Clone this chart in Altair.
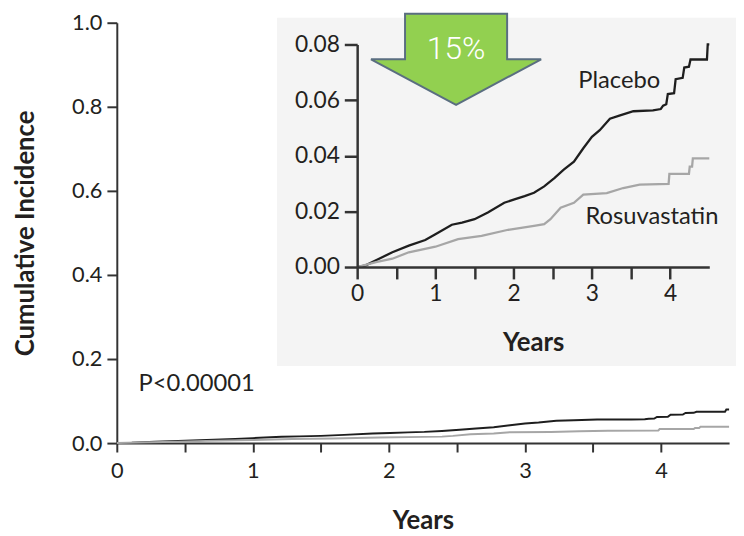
import altair as alt
import pandas as pd

# ---- data (cumulative incidence curves) ----
years_placebo = [0, 0.11, 0.28, 0.45, 0.66, 0.87, 1.0, 1.21, 1.34, 1.5, 1.67, 1.88, 2.01,
                 2.14, 2.26, 2.39, 2.52, 2.64, 2.77, 2.89, 3.0, 3.1, 3.23, 3.36, 3.53,
                 3.78, 3.88, 3.91, 3.95, 3.97, 4.05, 4.07, 4.16, 4.18, 4.24, 4.26,
                 4.47, 4.48, 4.5]
inc_placebo = [0, 0.0006, 0.003, 0.0053, 0.0077, 0.0097, 0.0118, 0.0152, 0.016, 0.0172,
               0.0196, 0.0231, 0.0243, 0.0255, 0.0267, 0.029, 0.032, 0.035, 0.0379,
               0.0427, 0.0468, 0.0492, 0.0533, 0.0545, 0.056, 0.0563, 0.0568, 0.058,
               0.0585, 0.0622, 0.0625, 0.0675, 0.068, 0.0717, 0.072, 0.0746,
               0.0746, 0.08, 0.08]
years_rosu = [0, 0.24, 0.45, 0.66, 1.0, 1.29, 1.59, 1.93, 2.26, 2.39, 2.47, 2.6, 2.77,
              2.89, 3.19, 3.4, 3.61, 3.98, 3.99, 4.24, 4.25, 4.28, 4.29, 4.5]
inc_rosu = [0, 0.0018, 0.003, 0.0053, 0.0073, 0.01, 0.0112, 0.0134, 0.0148, 0.0154,
            0.0172, 0.0213, 0.0231, 0.026, 0.0266, 0.0284, 0.0296, 0.0299, 0.0335,
            0.0335, 0.0361, 0.0361, 0.0391, 0.0391]
series_names = ["Placebo", "Rosuvastatin"]
series_colors = ["#1e1e1e", "#a6a6a6"]
main_y_ticks = [0, 0.2, 0.4, 0.6, 0.8, 1.0]
inset_y_ticks = [0, 0.02, 0.04, 0.06, 0.08]
x_ticks = [0, 0.5, 1, 1.5, 2, 2.5, 3, 3.5, 4]
p_text = "P<0.00001"
reduction_text = "15%"

df = pd.concat([
    pd.DataFrame({"Years": years_placebo, "Incidence": inc_placebo, "Series": "Placebo",
                  "i": range(len(years_placebo))}),
    pd.DataFrame({"Years": years_rosu, "Incidence": inc_rosu, "Series": "Rosuvastatin",
                  "i": range(len(years_rosu))}),
], ignore_index=True)

FONT = "Lato"
TXT = "#231f20"
W, H = 619, 425

color = alt.Color("Series:N", scale=alt.Scale(domain=series_names, range=series_colors), legend=None)
label_expr = "datum.value % 1 === 0 ? format(datum.value, 'd') : ''"

one = pd.DataFrame({"a": [0]})

# inset background panel
bg = alt.Chart(one).mark_rect(color="#f4f4f4").encode(
    x=alt.value(162), x2=alt.value(626), y=alt.value(-5), y2=alt.value(347)
)

main = alt.Chart(df).mark_line(strokeWidth=2).encode(
    x=alt.X("Years:Q", scale=alt.Scale(domain=[0, 4.5], nice=False, zero=False),
            axis=alt.Axis(orient="bottom", values=x_ticks, labelExpr=label_expr,
                          title="Years", titlePadding=26, titleFontSize=26,
                          titleFontWeight="bold", titleFont=FONT, titleColor=TXT,
                          labelFont=FONT, labelFontSize=22, labelColor=TXT,
                          labelPadding=9, tickSize=9, tickColor="#333", tickWidth=2,
                          domainColor="#333", domainWidth=2, grid=False,
                          labelFlush=False)),
    y=alt.Y("Incidence:Q", scale=alt.Scale(domain=[0, 1], nice=False),
            axis=alt.Axis(orient="left", values=main_y_ticks, format=".1f",
                          title="Cumulative Incidence", titlePadding=34, titleFontSize=26,
                          titleFontWeight="bold", titleFont=FONT, titleColor=TXT,
                          labelFont=FONT, labelFontSize=22, labelColor=TXT,
                          labelPadding=5, tickSize=10, tickColor="#333", tickWidth=2,
                          domainColor="#333", domainWidth=2, grid=False,
                          labelFlush=False)),
    color=color,
    order="i:Q",
)

inset = alt.Chart(df).mark_line(strokeWidth=2.3).encode(
    x=alt.X("Years:Q", scale=alt.Scale(domain=[0, 4.5], range=[243, 599], nice=False, zero=False),
            axis=alt.Axis(orient="bottom", offset=-178, values=x_ticks, labelExpr=label_expr,
                          title="Years", titlePadding=24, titleFontSize=26,
                          titleFontWeight="bold", titleFont=FONT, titleColor=TXT,
                          labelFont=FONT, labelFontSize=23, labelColor=TXT,
                          labelPadding=4, tickSize=12, tickColor="#333", tickWidth=2.5,
                          domainColor="#333", domainWidth=2.5, grid=False,
                          labelFlush=False, zindex=1)),
    y=alt.Y("Incidence:Q", scale=alt.Scale(domain=[0, 0.08], range=[247, 22], nice=False),
            axis=alt.Axis(orient="left", offset=-243, values=inset_y_ticks, format=".2f",
                          title=None,
                          labelFont=FONT, labelFontSize=23, labelColor=TXT,
                          labelPadding=5, tickSize=13, tickColor="#333", tickWidth=2.5,
                          domainColor="#333", domainWidth=2.5, grid=False,
                          labelFlush=False, zindex=1)),
    color=color,
    order="i:Q",
)

arrow_path = "M-0.6,-0.535 L0.6,-0.535 L0.6,0 L1,0 L0,0.535 L-1,0 L-0.6,0 Z"
arrow = alt.Chart(one).mark_point(
    shape=arrow_path, size=172 * 172, filled=True, fill="#92d050", fillOpacity=1,
    stroke="#5a6e80", strokeWidth=2, opacity=1
).encode(x=alt.value(343), y=alt.value(37))

pct = alt.Chart(one).mark_text(
    text=reduction_text, font="Roboto", fontWeight=300, fontSize=32, color="white",
    align="center", baseline="alphabetic"
).encode(x=alt.value(343), y=alt.value(37))

ptxt = alt.Chart(one).mark_text(
    text=p_text, font=FONT, fontSize=24, color=TXT, align="left", baseline="alphabetic"
).encode(x=alt.value(22), y=alt.value(372))

lab_placebo = alt.Chart(one).mark_text(
    text=series_names[0], font=FONT, fontSize=24, color=TXT, align="center", baseline="alphabetic"
).encode(x=alt.value(508), y=alt.value(66))

lab_rosu = alt.Chart(one).mark_text(
    text=series_names[1], font=FONT, fontSize=24, color=TXT, align="center", baseline="alphabetic"
).encode(x=alt.value(541), y=alt.value(203))

chart = alt.layer(bg, main, inset, arrow, pct, ptxt, lab_placebo, lab_rosu).resolve_scale(
    x="independent", y="independent"
).properties(
    width=W, height=H, autosize="none",
    padding={"left": 110, "top": 12, "right": 7, "bottom": 88},
    background="white",
).configure_view(stroke=None)

chart.save("out.html", embed_options={"renderer": "svg", "actions": False})
